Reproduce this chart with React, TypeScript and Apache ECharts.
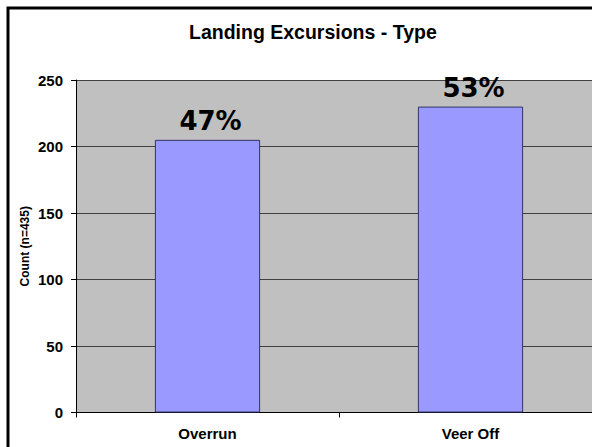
import React, { useEffect, useRef } from "react";
import * as echarts from "echarts";

const categories = ["Overrun", "Veer Off"];
const counts = [205, 230];
const percentLabels = ["47%", "53%"];
const yTicks = { min: 0, max: 250, interval: 50 };

export default function App() {
  const ref = useRef<HTMLDivElement>(null);
  useEffect(() => {
    if (!ref.current) return;
    const chart = echarts.init(ref.current, null, { renderer: "svg" });
    chart.setOption({
      animation: false,
      backgroundColor: "#ffffff",
      title: {
        text: "Landing Excursions - Type",
        left: 184,
        top: 17,
        textStyle: { fontFamily: "Liberation Sans, Arial", fontWeight: "bold", fontSize: 19.5, color: "#000" },
      },
      graphic: [
        {
          type: "rect",
          shape: { x: 8, y: 8, width: 640, height: 480 },
          style: { fill: "none", stroke: "#000", lineWidth: 3 },
          z: 100,
        },
      ],
      grid: { left: 76, top: 80, width: 526, height: 332.5, show: true, backgroundColor: "#C0C0C0", borderWidth: 0 },
      xAxis: {
        type: "category",
        data: categories,
        axisLine: { show: true, lineStyle: { color: "#000", width: 1 } },
        axisTick: { show: true, length: 5, lineStyle: { color: "#000" } },
        axisLabel: { margin: 13, fontFamily: "Liberation Sans, Arial", fontWeight: "bold", fontSize: 15, color: "#000" },
        splitLine: { show: false },
      },
      yAxis: {
        type: "value",
        min: yTicks.min,
        max: yTicks.max,
        interval: yTicks.interval,
        name: "Count (n=435)",
        nameLocation: "middle",
        nameGap: 45,
        nameMoveOverlap: false,
        nameTextStyle: { fontFamily: "Liberation Sans, Arial", fontWeight: "bold", fontSize: 12, color: "#000" },
        axisLine: { show: true, lineStyle: { color: "#000", width: 1 } },
        axisTick: { show: true, length: 5, lineStyle: { color: "#000" } },
        axisLabel: { margin: 13, fontFamily: "Liberation Sans, Arial", fontWeight: "bold", fontSize: 15, color: "#000" },
        splitLine: { show: true, lineStyle: { color: "#404040", width: 1 } },
      },
      series: [
        {
          type: "bar",
          data: counts,
          barWidth: "40%",
          itemStyle: { color: "#9999FF", borderColor: "#333366", borderWidth: 1 },
          label: {
            show: true,
            position: "top",
            distance: 6,
            offset: [3, 0],
            formatter: (p: any) => percentLabels[p.dataIndex],
            fontFamily: "DejaVu Sans",
            fontWeight: "bold",
            fontSize: 26,
            color: "#000",
          },
        },
      ],
    });
    return () => chart.dispose();
  }, []);
  return (
    <div style={{ position: "fixed", left: 0, top: 0, width: 592, height: 447, overflow: "hidden", background: "#fff" }}>
      <div ref={ref} style={{ width: 640, height: 447 }} />
    </div>
  );
}
